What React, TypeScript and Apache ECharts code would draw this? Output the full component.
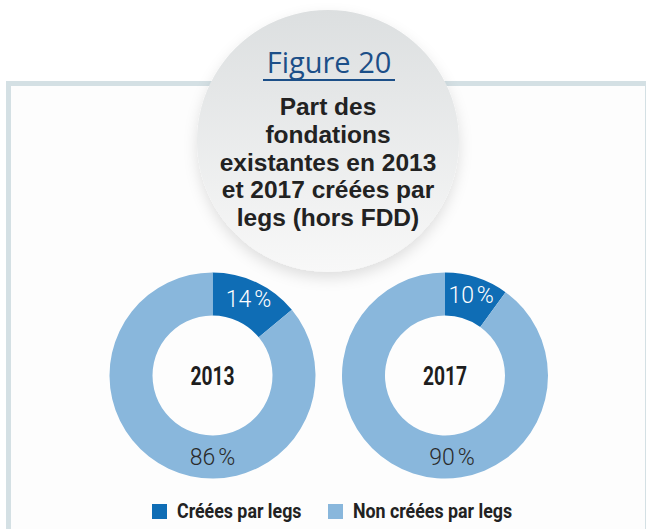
import React, { useEffect, useRef } from "react";
import * as echarts from "echarts";

const years = ["2013", "2017"];
const categories = ["Créées par legs", "Non créées par legs"];
const createdByBequest = [14, 10];
const notCreatedByBequest = [86, 90];
const figureLabel = "Figure 20";
const titleLines = [
  "Part des",
  "fondations",
  "existantes en 2013",
  "et 2017 créées par",
  "legs (hors FDD)",
];

const DARK = "#0f6db5";
const LIGHT = "#89b7dc";
const COND = "Roboto, 'Liberation Sans', sans-serif";
const FIG_FONT = "'Open Sans', 'Noto Sans', sans-serif";
const TITLE_FONT = "'Liberation Sans', Arial, sans-serif";

const CENTERS: [number, number][] = [
  [212.5, 375.5],
  [445, 375.5],
];
const R_IN = 60;
const R_OUT = 103;
const MID_R = (R_IN + R_OUT) / 2;
const BOTTOM_LABEL_DX = [0, 7];
const LEGEND_X = [152, 328];
const LEGEND_Y = 504;

export default function App() {
  const ref = useRef<HTMLDivElement>(null);
  useEffect(() => {
    if (!ref.current) return;
    const chart = echarts.init(ref.current, undefined, { renderer: "svg" });

    const series = years.map((y, i) => ({
      type: "pie",
      name: y,
      center: CENTERS[i],
      radius: [R_IN, R_OUT],
      startAngle: 90,
      clockwise: true,
      silent: true,
      z: 2,
      label: {
        show: true,
        position: "inside",
        fontFamily: COND,
        fontSize: 23,
        fontWeight: 300,
        formatter: (p: any) => `${p.value}\u202F%`,
      },
      labelLine: { show: false },
      labelLayout: (p: any) =>
        p.dataIndex === 1
          ? {
              x: CENTERS[i][0] + BOTTOM_LABEL_DX[i],
              y: CENTERS[i][1] + MID_R,
              align: "center",
              verticalAlign: "middle",
            }
          : {},
      data: [
        {
          name: categories[0],
          value: createdByBequest[i],
          itemStyle: { color: DARK },
          label: { color: "#ffffff" },
        },
        {
          name: categories[1],
          value: notCreatedByBequest[i],
          itemStyle: { color: LIGHT },
          label: { color: "#2a2a2a" },
        },
      ],
    }));

    const graphics: any[] = [
      {
        type: "rect",
        z: 0,
        shape: { x: 8.5, y: 83.5, width: 639, height: 500 },
        style: { fill: "#fdfdfd", stroke: "#d4e0e4", lineWidth: 5 },
      },
      {
        type: "circle",
        z: 1,
        shape: { cx: 328, cy: 141, r: 131 },
        style: {
          fill: new echarts.graphic.LinearGradient(0, 0, 0, 1, [
            { offset: 0, color: "#dcdfe0" },
            { offset: 1, color: "#f8f8f8" },
          ]),
          shadowBlur: 14,
          shadowOffsetY: 6,
          shadowColor: "rgba(0,0,0,0.12)",
        },
      },
      {
        type: "text",
        z: 10,
        style: {
          x: 329,
          y: 61,
          text: figureLabel,
          fill: "#1c4f88",
          font: `400 29px ${FIG_FONT}`,
          textAlign: "center",
          textVerticalAlign: "middle",
        },
      },
      {
        type: "line",
        z: 10,
        shape: { x1: 263, y1: 80, x2: 395, y2: 80 },
        style: { stroke: "#1c4f88", lineWidth: 2 },
      },
      {
        type: "text",
        z: 10,
        style: {
          x: 328,
          y: 162,
          text: titleLines.join("\n"),
          fill: "#222222",
          font: `700 24.5px ${TITLE_FONT}`,
          lineHeight: 27.6,
          textAlign: "center",
          textVerticalAlign: "middle",
        },
      },
      ...years.map((y, i) => ({
        type: "text",
        z: 10,
        x: CENTERS[i][0],
        y: CENTERS[i][1] + 1,
        scaleX: 0.77,
        style: {
          x: 0,
          y: 0,
          text: y,
          fill: "#1e1e1e",
          font: `700 25px ${COND}`,
          textAlign: "center",
          textVerticalAlign: "middle",
        },
      })),
      ...categories.map((c, k) => ({
        type: "group",
        z: 10,
        x: LEGEND_X[k],
        y: LEGEND_Y,
        children: [
          {
            type: "rect",
            shape: { x: 0, y: 0, width: 15, height: 15 },
            style: { fill: k === 0 ? DARK : LIGHT },
          },
          {
            type: "text",
            x: 25,
            y: 7.5,
            scaleX: 0.89,
            style: {
              x: 0,
              y: 0,
              text: c,
              fill: "#222222",
              font: `700 20px ${COND}`,
              textAlign: "left",
              textVerticalAlign: "middle",
            },
          },
        ],
      })),
    ];

    chart.setOption({
      animation: false,
      backgroundColor: "#ffffff",
      graphic: graphics,
      series,
    });
    return () => chart.dispose();
  }, []);
  return (
    <div
      ref={ref}
      style={{ position: "fixed", left: 0, top: 0, width: 646, height: 529 }}
    />
  );
}
